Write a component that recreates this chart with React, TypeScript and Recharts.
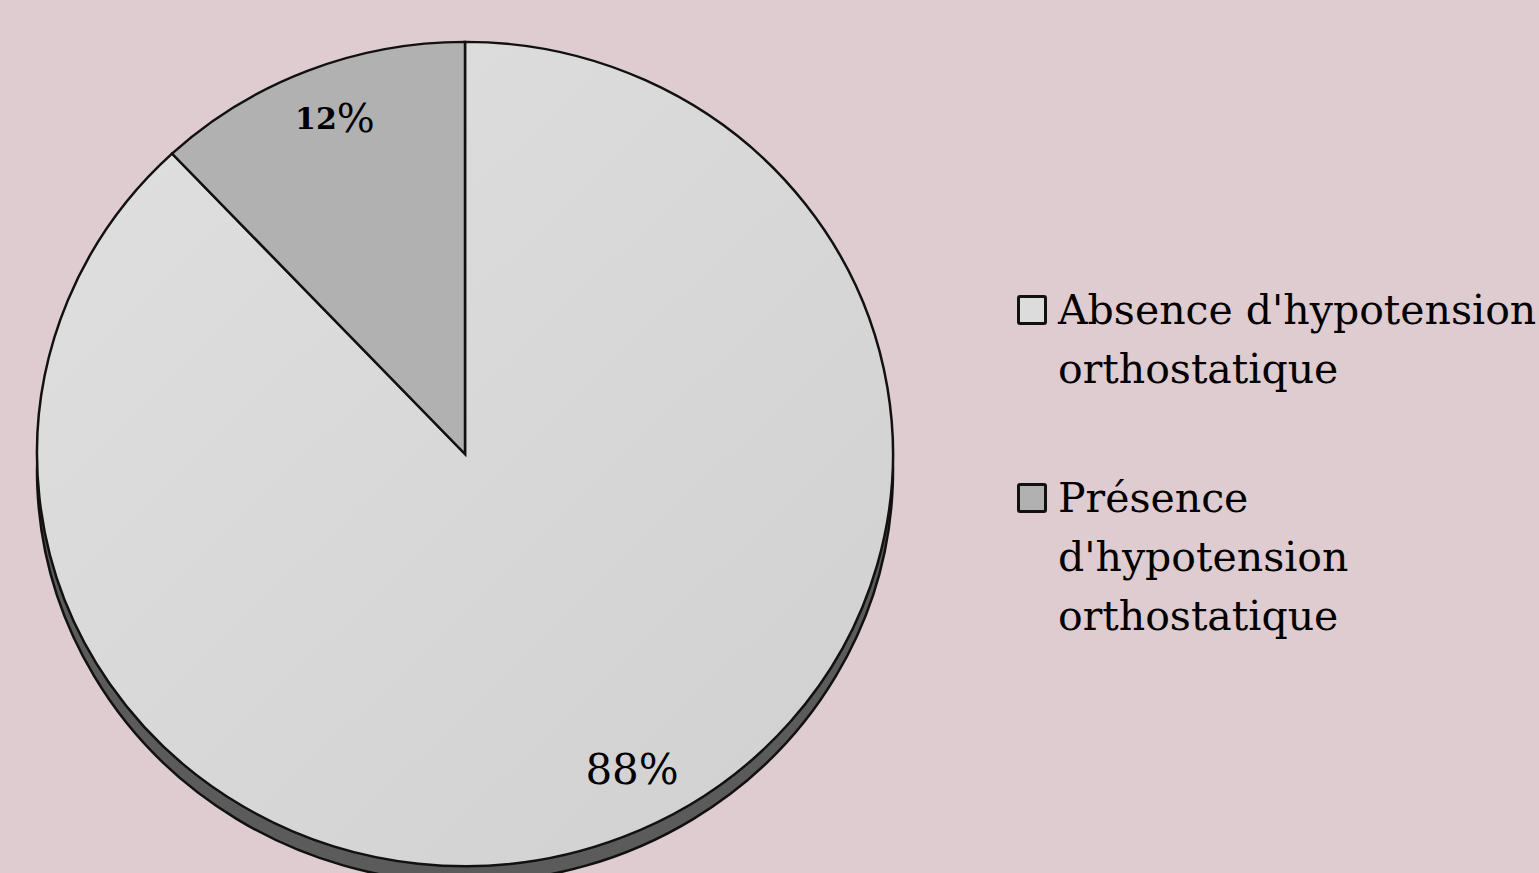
import { PieChart, Pie, Cell, Legend } from 'recharts';

const CATEGORIES = ["Absence d'hypotension orthostatique", "Présence d'hypotension orthostatique"];
const VALUES = [88, 12];
const LABELS = ['88%', '12%'];
const SIDE_VALUES = [100];

const SLICE_FILLS = ['url(#absenceFill)', '#b1b1b1'];
const SWATCHES = ['#dcdcdc', '#b1b1b1'];
const FONT = '"DejaVu Serif", "Liberation Serif", serif';

const pieData = CATEGORIES.map((name, i) => ({ name, value: VALUES[i], label: LABELS[i] }));
const sideData = SIDE_VALUES.map((value) => ({ name: 'side', value }));

const RADIAN = Math.PI / 180;
const CX = 465;
const CY = 454;
const R = 428;

// small nudges so the labels sit like in the original (Excel "best fit")
const LABEL_NUDGE: Record<string, { dx: number; dy: number }> = {
  '88%': { dx: 30, dy: -31 },
  '12%': { dx: 7, dy: 10 },
};

function renderLabel(p: any) {
  const r = p.outerRadius * 0.87;
  const text: string = p.payload?.label ?? p.label;
  const nudge = LABEL_NUDGE[text] || { dx: 0, dy: 0 };
  const x = p.cx + r * Math.cos(-p.midAngle * RADIAN) + nudge.dx;
  const y = p.cy + r * Math.sin(-p.midAngle * RADIAN) + nudge.dy;
  if (text === '12%') {
    return (
      <text x={x} y={y} textAnchor="middle" dominantBaseline="central" fill="#000" fontFamily={FONT}>
        <tspan fontSize={30} fontWeight="bold">12</tspan>
        <tspan fontSize={40}>%</tspan>
      </text>
    );
  }
  return (
    <text x={x} y={y} textAnchor="middle" dominantBaseline="central" fill="#000" fontFamily={FONT} fontSize={42}>
      {text}
    </text>
  );
}

function LegendContent() {
  return (
    <div style={{ fontFamily: FONT, fontSize: 41, lineHeight: '59px', color: '#000' }}>
      {CATEGORIES.map((name, i) => (
        <div key={name} style={{ position: 'relative', paddingLeft: 43, width: 486, marginBottom: i === 0 ? 70 : 0 }}>
          <span
            style={{
              position: 'absolute',
              left: 2,
              top: 14,
              width: 24,
              height: 24,
              border: '3px solid #111',
              borderRadius: 3,
              background: SWATCHES[i],
            }}
          />
          {name}
        </div>
      ))}
    </div>
  );
}

export default function App() {
  return (
    <div
      className="pie-wrap"
      style={{ position: 'absolute', left: 0, top: 0, width: 1539, height: 873, background: '#dfccd0', overflow: 'hidden' }}
    >
      <style>{`.pie-wrap .recharts-pie { transform-origin: ${CX}px ${CY}px; transform: scaleY(0.963); }`}</style>
      <PieChart width={1539} height={873} margin={{ top: 0, right: 0, bottom: 0, left: 0 }}>
        <defs>
          <linearGradient id="absenceFill" x1="0" y1="0" x2="1" y2="1">
            <stop offset="0%" stopColor="#e0e0e0" />
            <stop offset="100%" stopColor="#d0d0d0" />
          </linearGradient>
        </defs>
        <Pie
          data={sideData}
          dataKey="value"
          cx={CX}
          cy={CY + 17}
          outerRadius={R}
          startAngle={90}
          endAngle={-270}
          fill="#5b5b5b"
          stroke="#111"
          strokeWidth={2.5}
          legendType="none"
          isAnimationActive={false}
        />
        <Pie
          data={pieData}
          dataKey="value"
          nameKey="name"
          cx={CX}
          cy={CY}
          outerRadius={R}
          startAngle={90}
          endAngle={-270}
          stroke="#111"
          strokeWidth={2.5}
          label={renderLabel}
          labelLine={false}
          isAnimationActive={false}
        >
          {pieData.map((d, i) => (
            <Cell key={d.name} fill={SLICE_FILLS[i]} />
          ))}
        </Pie>
        <Legend
          content={<LegendContent />}
          wrapperStyle={{ left: 1015, top: 281, width: 524 }}
        />
      </PieChart>
    </div>
  );
}
